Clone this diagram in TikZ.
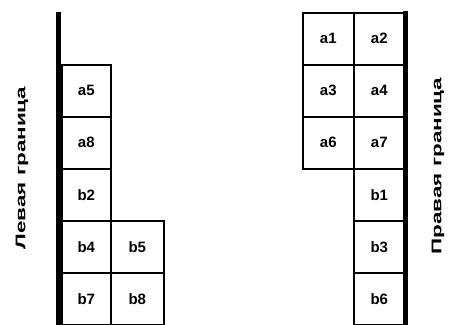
\documentclass[tikz,border=0pt]{standalone}
\usepackage{fontspec}
\setmainfont{Liberation Sans}
\begin{document}
\begin{tikzpicture}[x=1pt,y=-1pt,
  cell/.style={draw,line width=1.6pt,minimum width=#1,minimum height=52pt,inner sep=0pt,anchor=north west,font=\fontsize{15}{15}\selectfont\bfseries},
  cell/.default=49pt,
  wall/.style={line width=5.5pt},
  side/.style={rotate=90,inner sep=0pt,font=\fontsize{14}{14}\selectfont\bfseries}]
\useasboundingbox (0,0) rectangle (452,324);
% left wall
\coordinate (lt) at (58.5,12);
\coordinate (lb) at (58.5,326);
\draw[wall] (lt) -- (lb);
\node[cell] (a5) at (61,64) {a5};
\node[cell] (a8) at (61,116) {a8};
\node[cell] (b2) at (61,168) {b2};
\node[cell] (b4) at (61,220) {b4};
\node[cell=53pt] (b5) at (110,220) {b5};
\node[cell] (b7) at (61,272) {b7};
\node[cell=53pt] (b8) at (110,272) {b8};
% right wall
\coordinate (rt) at (405.5,11);
\coordinate (rb) at (405.5,326);
\draw[wall] (rt) -- (rb);
\node[cell=51pt] (a1) at (302,12) {a1};
\node[cell=51pt] (a2) at (353,12) {a2};
\node[cell=51pt] (a3) at (302,64) {a3};
\node[cell=51pt] (a4) at (353,64) {a4};
\node[cell=51pt] (a6) at (302,116) {a6};
\node[cell=51pt] (a7) at (353,116) {a7};
\node[cell=51pt] (b1) at (353,168) {b1};
\node[cell=51pt] (b3) at (353,220) {b3};
\node[cell=51pt] (b6) at (353,272) {b6};
% labels
\node[side] (lw) at (22,168) {\scalebox{1.6}[1]{Левая граница}};
\node[side] (rw) at (438,166) {\scalebox{1.6}[1]{Правая граница}};
\end{tikzpicture}
\end{document}
